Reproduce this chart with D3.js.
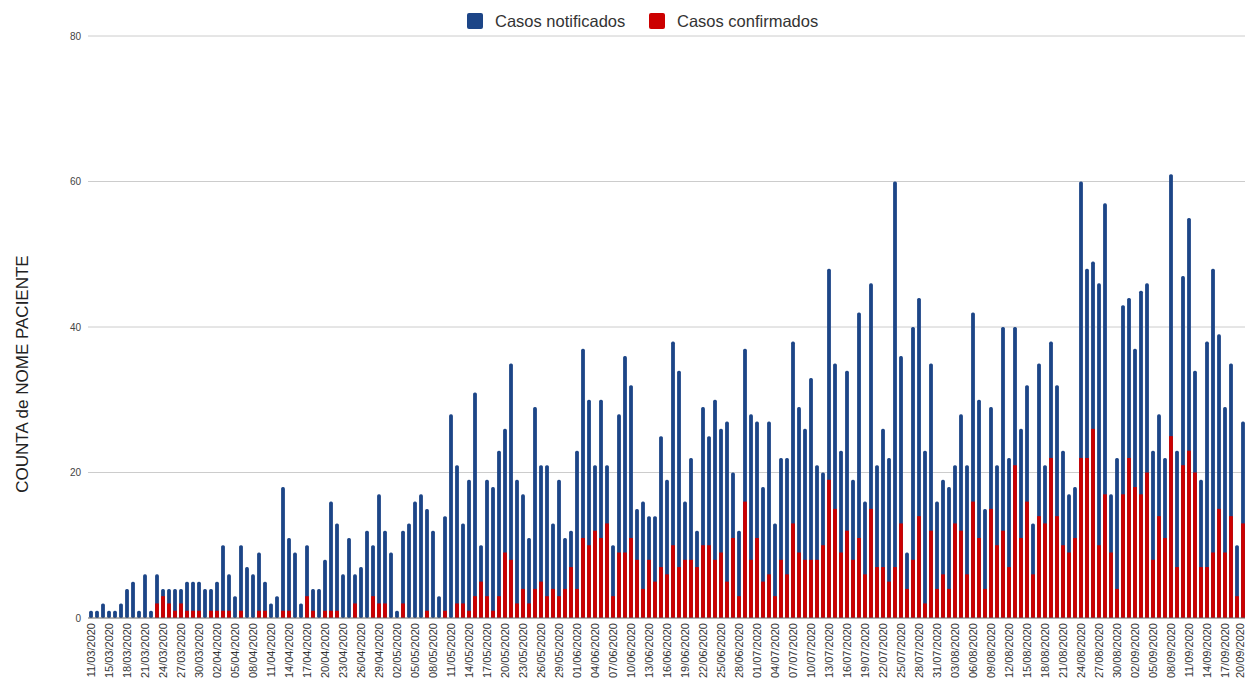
<!DOCTYPE html>
<html>
<head>
<meta charset="utf-8">
<script src="https://cdn.jsdelivr.net/npm/d3@7"></script>
<style>
  html, body { margin: 0; padding: 0; background: #fff; }
  svg { display: block; font-family: "Liberation Sans", Arial, sans-serif; }
</style>
</head>
<body>
<svg id="chart" width="1245" height="681"></svg>
<script>
const categories = [
  "11/03/2020","13/03/2020","14/03/2020","15/03/2020","16/03/2020","17/03/2020","18/03/2020","19/03/2020","20/03/2020","21/03/2020","22/03/2020","23/03/2020","24/03/2020","25/03/2020","26/03/2020","27/03/2020","28/03/2020","29/03/2020","30/03/2020","31/03/2020",
  "01/04/2020","02/04/2020","03/04/2020","04/04/2020","05/04/2020","06/04/2020","07/04/2020","08/04/2020","09/04/2020","10/04/2020","11/04/2020","12/04/2020","13/04/2020","14/04/2020","15/04/2020","16/04/2020","17/04/2020","18/04/2020","19/04/2020","20/04/2020","21/04/2020","22/04/2020","23/04/2020","24/04/2020","25/04/2020","26/04/2020","27/04/2020","28/04/2020","29/04/2020","30/04/2020",
  "01/05/2020","02/05/2020","03/05/2020","04/05/2020","05/05/2020","06/05/2020","07/05/2020","08/05/2020","09/05/2020","10/05/2020","11/05/2020","12/05/2020","13/05/2020","14/05/2020","15/05/2020","16/05/2020","17/05/2020","18/05/2020","19/05/2020","20/05/2020","21/05/2020","22/05/2020","23/05/2020","24/05/2020","25/05/2020","26/05/2020","27/05/2020","28/05/2020","29/05/2020","30/05/2020","31/05/2020",
  "01/06/2020","02/06/2020","03/06/2020","04/06/2020","05/06/2020","06/06/2020","07/06/2020","08/06/2020","09/06/2020","10/06/2020","11/06/2020","12/06/2020","13/06/2020","14/06/2020","15/06/2020","16/06/2020","17/06/2020","18/06/2020","19/06/2020","20/06/2020","21/06/2020","22/06/2020","23/06/2020","24/06/2020","25/06/2020","26/06/2020","27/06/2020","28/06/2020","29/06/2020","30/06/2020",
  "01/07/2020","02/07/2020","03/07/2020","04/07/2020","05/07/2020","06/07/2020","07/07/2020","08/07/2020","09/07/2020","10/07/2020","11/07/2020","12/07/2020","13/07/2020","14/07/2020","15/07/2020","16/07/2020","17/07/2020","18/07/2020","19/07/2020","20/07/2020","21/07/2020","22/07/2020","23/07/2020","24/07/2020","25/07/2020","26/07/2020","27/07/2020","28/07/2020","29/07/2020","30/07/2020","31/07/2020",
  "01/08/2020","02/08/2020","03/08/2020","04/08/2020","05/08/2020","06/08/2020","07/08/2020","08/08/2020","09/08/2020","10/08/2020","11/08/2020","12/08/2020","13/08/2020","14/08/2020","15/08/2020","16/08/2020","17/08/2020","18/08/2020","19/08/2020","20/08/2020","21/08/2020","22/08/2020","23/08/2020","24/08/2020","25/08/2020","26/08/2020","27/08/2020","28/08/2020","29/08/2020","30/08/2020","31/08/2020",
  "01/09/2020","02/09/2020","03/09/2020","04/09/2020","05/09/2020","06/09/2020","07/09/2020","08/09/2020","09/09/2020","10/09/2020","11/09/2020","12/09/2020","13/09/2020","14/09/2020","15/09/2020","16/09/2020","17/09/2020","18/09/2020","19/09/2020","20/09/2020"
];

const casosNotificados = [
  1,1,2,1,1,2,4,5,1,6,1,
  6,4,4,4,4,5,5,5,4,4,5,10,6,3,10,7,6,9,5,2,3,
  18,11,9,2,10,4,4,8,16,13,6,11,6,7,12,10,17,12,9,1,12,13,16,17,15,12,3,14,28,21,13,19,
  31,10,19,18,23,26,35,19,17,11,29,21,21,13,19,11,12,23,37,30,21,30,21,10,28,36,32,15,16,14,14,25,19,
  38,34,16,22,12,29,25,30,26,27,20,12,37,28,27,18,27,13,22,22,38,29,26,33,21,20,48,35,23,34,19,42,
  16,46,21,26,22,60,36,9,40,44,23,35,16,19,18,21,28,21,42,30,15,29,21,40,22,40,26,32,13,35,21,38,
  32,23,17,18,60,48,49,46,57,17,22,43,44,37,45,46,23,28,22,61,23,47,55,34,19,38,48,39,29,35,10,27
];

const casosConfirmados = [
  0,0,0,0,0,0,0,0,0,0,0,
  2,3,2,1,2,1,1,1,0,1,1,1,1,0,1,0,0,1,1,0,0,
  1,1,0,0,3,1,0,1,1,1,0,0,2,0,0,3,2,2,0,0,2,0,0,0,1,0,0,1,0,2,2,1,
  3,5,3,1,3,9,8,2,4,2,4,5,3,4,3,4,7,4,11,10,12,11,13,3,9,9,11,8,4,8,5,7,6,
  10,7,8,8,7,10,10,8,9,5,11,3,16,8,11,5,6,3,8,6,13,9,8,8,8,10,19,15,9,12,8,11,
  6,15,7,7,5,7,13,4,8,14,2,12,4,6,4,13,12,6,16,11,4,15,10,12,7,21,11,16,6,14,13,22,
  14,10,9,11,22,22,26,10,17,9,4,17,22,18,17,20,8,14,11,25,7,21,23,20,7,7,9,15,9,14,3,13
];

const yTicks = [0, 20, 40, 60, 80];
const tickLabels = categories.filter((d, i) => i % 3 === 0);
const seriesNames = ["Casos notificados", "Casos confirmados"];
const seriesColors = ["#1c4587", "#cc0000"];
const yTitle = "COUNTA de NOME PACIENTE";

const svg = d3.select("#chart");
const plotLeft = 88, plotRight = 1245, plotTop = 36, plotBottom = 618;

const x = d3.scalePoint().domain(categories).range([91, 1243]);
const y = d3.scaleLinear().domain([0, 80]).range([plotBottom, plotTop]);
const barW = 3.8;

// gridlines
svg.append("g").selectAll("line").data(yTicks.filter(d => d > 0)).join("line")
  .attr("x1", plotLeft).attr("x2", plotRight)
  .attr("y1", d => y(d)).attr("y2", d => y(d))
  .attr("stroke", "#cccccc").attr("stroke-width", 1);

// y tick labels
svg.append("g").selectAll("text").data(yTicks).join("text")
  .attr("x", 81).attr("y", d => y(d)).attr("dy", "0.35em")
  .attr("text-anchor", "end").attr("font-size", 10).attr("fill", "#444")
  .text(d => d);

// y title
svg.append("text")
  .attr("transform", "translate(28,374) rotate(-90)")
  .attr("text-anchor", "middle").attr("font-size", 17).attr("fill", "#222")
  .text(yTitle);

// bars
const gBars = svg.append("g");
gBars.selectAll("rect.n").data(categories).join("rect").attr("class", "n")
  .attr("x", d => x(d) - barW / 2).attr("width", barW)
  .attr("y", (d, i) => y(casosNotificados[i]))
  .attr("height", (d, i) => y(0) - y(casosNotificados[i]))
  .attr("rx", 1.6)
  .attr("fill", seriesColors[0]);
gBars.selectAll("rect.c").data(categories).join("rect").attr("class", "c")
  .attr("x", d => x(d) - barW / 2).attr("width", barW)
  .attr("y", (d, i) => y(casosConfirmados[i]))
  .attr("height", (d, i) => y(0) - y(casosConfirmados[i]))
  .attr("fill", seriesColors[1]);

// baseline
svg.append("line")
  .attr("x1", plotLeft).attr("x2", plotRight)
  .attr("y1", y(0)).attr("y2", y(0))
  .attr("stroke", "#666").attr("stroke-width", 1);

// x labels
svg.append("g").selectAll("text").data(tickLabels).join("text")
  .attr("transform", d => `translate(${Math.min(x(d), 1240)},623) rotate(-90)`)
  .attr("dy", "0.35em")
  .attr("text-anchor", "end").attr("font-size", 11).attr("fill", "#333")
  .text(d => d);

// legend
const legend = svg.append("g");
const legendItems = [
  { name: seriesNames[0], color: seriesColors[0], x: 467 },
  { name: seriesNames[1], color: seriesColors[1], x: 649 }
];
legend.selectAll("rect").data(legendItems).join("rect")
  .attr("x", d => d.x).attr("y", 13).attr("width", 16).attr("height", 16)
  .attr("rx", 2).attr("fill", d => d.color);
legend.selectAll("text").data(legendItems).join("text")
  .attr("x", d => d.x + 28).attr("y", 27)
  .attr("font-size", 16.5).attr("fill", "#333")
  .text(d => d.name);
</script>
</body>
</html>
